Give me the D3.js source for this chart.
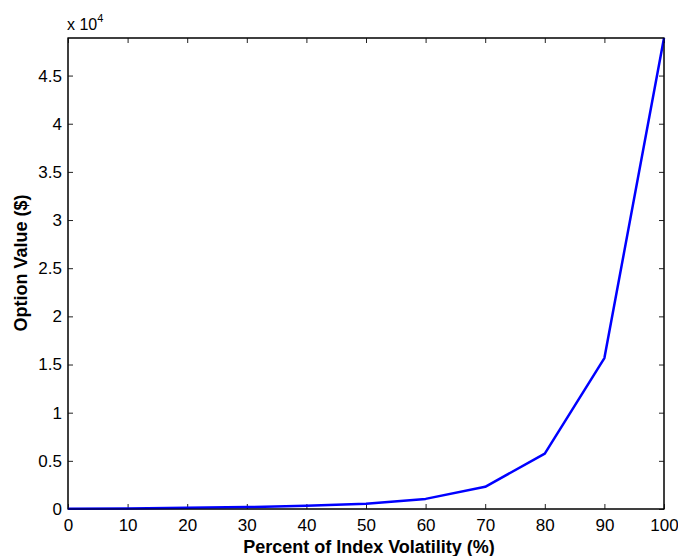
<!DOCTYPE html>
<html>
  <head>
    <script src="https://d3js.org/d3.v7.min.js"></script>
    <style>
        body { margin: 0; background: white; }
        svg { display: block; }
        text { font-family: "Liberation Sans", Arial, sans-serif; }
    </style>
  </head>
  <body>
    <svg id="chart" width="678" height="556"></svg>
  </body>
  <script>
    // volatility (%) and option value ($)
    const volatility = [0, 10, 20, 30, 40, 50, 60, 70, 80, 90, 100];
    const optionValue = [20, 60, 120, 200, 330, 550, 1050, 2300, 5750, 15670, 48900];
    const xTicks = [0, 10, 20, 30, 40, 50, 60, 70, 80, 90, 100];
    const yTicks = [0, 0.5, 1, 1.5, 2, 2.5, 3, 3.5, 4, 4.5];

    const svg = d3.select("#chart");
    const pLeft = 68, pRight = 664, pTop = 38, pBottom = 509;

    const x = d3.scaleLinear().domain([0, 100]).range([pLeft, pRight]);
    // y in units of 10^4
    const y = d3.scaleLinear().domain([0, 4.89]).range([pBottom, pTop]);

    // box
    svg.append("rect")
        .attr("x", pLeft).attr("y", pTop)
        .attr("width", pRight - pLeft).attr("height", pBottom - pTop)
        .attr("fill", "white").attr("stroke", "black").attr("stroke-width", 1);

    // inward ticks, mirrored like matlab
    const tickLen = 5;
    const xAxisB = d3.axisBottom(x).tickValues(xTicks).tickSizeInner(-tickLen).tickSizeOuter(0).tickPadding(10);
    const gx = svg.append("g").attr("transform", `translate(0,${pBottom})`).call(xAxisB);
    const xAxisT = d3.axisTop(x).tickValues(xTicks).tickSizeInner(-tickLen).tickSizeOuter(0).tickFormat("");
    const gxt = svg.append("g").attr("transform", `translate(0,${pTop})`).call(xAxisT);
    const yAxisL = d3.axisLeft(y).tickValues(yTicks).tickSizeInner(-tickLen).tickSizeOuter(0).tickPadding(6)
        .tickFormat(d => d3.format("")(d));
    const gy = svg.append("g").attr("transform", `translate(${pLeft},0)`).call(yAxisL);
    const yAxisR = d3.axisRight(y).tickValues(yTicks).tickSizeInner(-tickLen).tickSizeOuter(0).tickFormat("");
    const gyr = svg.append("g").attr("transform", `translate(${pRight},0)`).call(yAxisR);

    [gx, gxt, gy, gyr].forEach(g => {
        g.select(".domain").remove();
        g.selectAll(".tick line").attr("stroke", "#222");
        g.selectAll("text").attr("font-size", "17px").attr("fill", "black")
            .style("font-family", "'Liberation Sans', Arial, sans-serif");
    });
    gx.selectAll("text").attr("dy", "0.68em");

    // the line
    const line = d3.line()
        .x((d, i) => x(volatility[i]))
        .y(d => y(d / 10000));
    svg.append("path")
        .datum(optionValue)
        .attr("d", line)
        .attr("fill", "none")
        .attr("stroke", "#0000ff")
        .attr("stroke-width", 2.5)
        .attr("stroke-linejoin", "round");

    // redraw box edges on top
    svg.append("rect")
        .attr("x", pLeft).attr("y", pTop)
        .attr("width", pRight - pLeft).attr("height", pBottom - pTop)
        .attr("fill", "none").attr("stroke", "black").attr("stroke-width", 1);

    // exponent label
    const expo = svg.append("text")
        .attr("x", 67).attr("y", 30)
        .attr("font-size", "16px");
    expo.append("tspan").text("x 10");
    expo.append("tspan").attr("dy", -8).attr("font-size", "11px").text("4");

    // axis labels
    svg.append("text")
        .attr("x", 369).attr("y", 553)
        .attr("text-anchor", "middle")
        .attr("font-size", "18px").attr("font-weight", "bold")
        .text("Percent of Index Volatility (%)");

    svg.append("text")
        .attr("transform", `translate(27,263) rotate(-90)`)
        .attr("text-anchor", "middle")
        .attr("font-size", "18px").attr("font-weight", "bold")
        .text("Option Value ($)");
  </script>
</html>
